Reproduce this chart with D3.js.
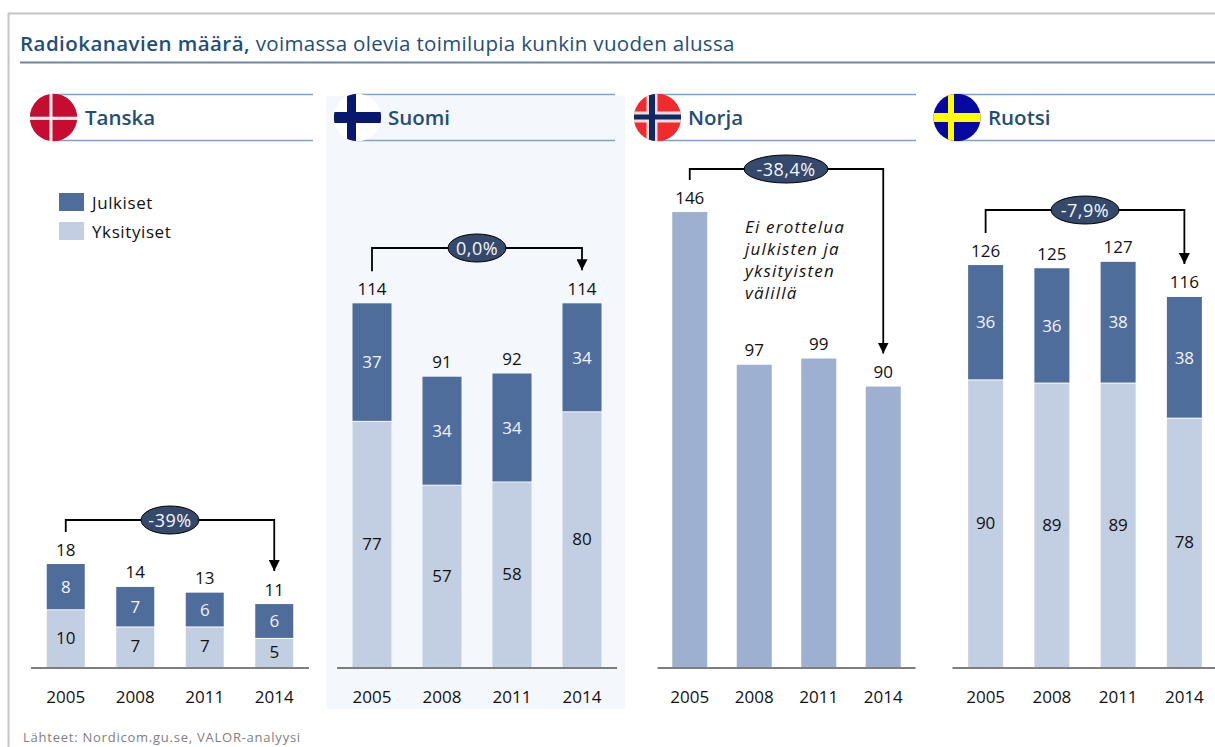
<!DOCTYPE html>
<html><head><meta charset="utf-8">
<script src="https://cdn.jsdelivr.net/npm/d3@7"></script>
<style>
html,body{margin:0;padding:0;background:#fff}
svg{display:block}
text{font-family:"Open Sans","Noto Sans",sans-serif}
</style></head><body><svg id="c" width="1215" height="747"></svg>
<script>
const years = ["2005","2008","2011","2014"];
const countries = ["Tanska","Suomi","Norja","Ruotsi"];
const tanskaPublic = [8,7,6,6];
const tanskaPrivate = [10,7,7,5];
const suomiPublic = [37,34,34,34];
const suomiPrivate = [77,57,58,80];
const norjaTotal = [146,97,99,90];
const ruotsiPublic = [36,36,38,38];
const ruotsiPrivate = [90,89,89,78];
const totalsTanska = [18,14,13,11];
const totalsSuomi = [114,91,92,114];
const totalsRuotsi = [126,125,127,116];
const changes = ["-39%","0,0%","-38,4%","-7,9%"];
const legendLabels = ["Julkiset","Yksityiset"];
const noteLines = ["Ei erottelua","julkisten ja","yksityisten","välillä"];
const titleBold = "Radiokanavien määrä,";
const titleRest = " voimassa olevia toimilupia kunkin vuoden alussa";
const sourceText = "Lähteet: Nordicom.gu.se, VALOR-analyysi";

const C = {dark:"#4e6d9b", light:"#c2cee1", mid:"#9db0cf", head:"#1f4e79", rule:"#7ba3d0", pill:"#34496b"};
const base = 667;
const svg = d3.select("#c");
const line = (x1,y1,x2,y2,c,w)=>svg.append("line").attr("x1",x1).attr("y1",y1).attr("x2",x2).attr("y2",y2).attr("stroke",c).attr("stroke-width",w);

// frame
line(8,13.5,1215,13.5,"#c6c6c6",2);
line(8.5,13,8.5,747,"#c6c6c6",2);
// title
const t = svg.append("text").attr("x",20).attr("y",51).attr("font-size",20.5).attr("fill",C.head);
t.append("tspan").attr("font-weight",600).attr("letter-spacing",0.45).text(titleBold);
t.append("tspan").attr("letter-spacing",0.33).text(titleRest);
line(20,62.5,1215,62.5,"#6a87a6",2);
// Suomi highlight
svg.append("rect").attr("x",326).attr("y",96).attr("width",299).attr("height",613).attr("fill","#f4f7fc");

const panels = [
 {name:countries[0],range:[31,309],bw:38,perUnit:5.72,cx:53.5,ruleEnd:313,textX:85,pub:tanskaPublic,pri:tanskaPrivate,tot:totalsTanska,hY:520,pillX:170,rx:29,chg:changes[0]},
 {name:countries[1],range:[337,617],bw:39,perUnit:3.19,cx:357.5,ruleEnd:615,textX:388,pub:suomiPublic,pri:suomiPrivate,tot:totalsSuomi,hY:248,pillX:477,rx:29,chg:changes[1]},
 {name:countries[2],range:[657.5,915.5],bw:35,perUnit:3.116,cx:657.5,ruleEnd:916,textX:688,pub:null,pri:norjaTotal,tot:norjaTotal,hY:169,pillX:786,rx:42,chg:changes[2]},
 {name:countries[3],range:[952.5,1217.5],bw:35,perUnit:3.19,cx:957,ruleEnd:1215,textX:988,pub:ruotsiPublic,pri:ruotsiPrivate,tot:totalsRuotsi,hY:210,pillX:1085,rx:34,chg:changes[3]}
];

const defs = svg.append("defs");
defs.append("marker").attr("id","ah").attr("viewBox","0 0 10 10").attr("refX",10).attr("refY",5)
  .attr("markerUnits","userSpaceOnUse").attr("markerWidth",11).attr("markerHeight",11).attr("orient","auto")
  .append("path").attr("d","M0,0L10,5L0,10Z").attr("fill","#000");

const flags = {
 Tanska:{bg:"#c60c30",crosses:[{c:"#fbeef0",vx:-4,vw:3,hy:-0.8,hh:3.2}]},
 Suomi:{bg:"#ffffff",crosses:[{c:"#08186e",vx:-10.5,vw:9,hy:-5.5,hh:11}]},
 Norja:{bg:"#ef2b2d",crosses:[{c:"#f6d9d9",vx:-11,vw:11,hy:-6,hh:11},{c:"#0b2a66",vx:-8.5,vw:6,hy:-3,hh:5}]},
 Ruotsi:{bg:"#0606a0",crosses:[{c:"#ffff00",vx:-9,vw:6,hy:-4.5,hh:9}]}
};

panels.forEach((p,i)=>{
  const cy=117.5, r=23.7;
  line(p.cx-3,94.5,p.ruleEnd,94.5,C.rule,1.5);
  line(p.cx-3,140.5,p.ruleEnd,140.5,C.rule,1.5);
  defs.append("clipPath").attr("id","f"+i).append("circle").attr("cx",p.cx).attr("cy",cy).attr("r",r);
  const g = svg.append("g").attr("clip-path",`url(#f${i})`);
  const f = flags[p.name];
  g.append("rect").attr("x",p.cx-r).attr("y",cy-r).attr("width",2*r).attr("height",2*r).attr("fill",f.bg);
  f.crosses.forEach(c=>{
    g.append("rect").attr("x",p.cx+c.vx).attr("y",cy-r).attr("width",c.vw).attr("height",2*r).attr("fill",c.c);
    g.append("rect").attr("x",p.cx-r).attr("y",cy+c.hy).attr("width",2*r).attr("height",c.hh).attr("fill",c.c);
  });
  svg.append("text").attr("x",p.textX).attr("y",125).attr("font-size",20.5).attr("font-weight",600).attr("fill",C.head).text(p.name);

  const x = d3.scalePoint().domain(years).range(p.range).padding(0.5);
  const y = d3.scaleLinear().domain([0,100]).range([base,base-100*p.perUnit]);
  const bar = (yr,lo,hi,fill)=>svg.append("rect").attr("x",x(yr)-p.bw/2).attr("width",p.bw)
     .attr("y",y(hi)).attr("height",y(lo)-y(hi)).attr("fill",fill);
  const num = (xx,yy,s,fill)=>svg.append("text").attr("x",xx).attr("y",yy).attr("text-anchor","middle")
     .attr("dominant-baseline","central").attr("font-size",17).attr("fill",fill).text(s);

  years.forEach((yr,j)=>{
    const pri=p.pri[j];
    if(p.pub){
      bar(yr,0,pri-0.5/p.perUnit,C.light);
      bar(yr,pri+0.5/p.perUnit,p.tot[j],C.dark);
      num(x(yr),(y(0)+y(pri))/2-1,pri,"#111");
      num(x(yr),(y(pri)+y(p.tot[j]))/2-0.5,p.pub[j],"#f2f4f8");
    } else {
      bar(yr,0,pri,C.mid);
    }
    num(x(yr),y(p.tot[j])-15,p.tot[j],"#111");
  });

  const ax = svg.append("g").attr("transform",`translate(-0.5,${base+0.5})`).call(d3.axisBottom(x).tickSize(0).tickPadding(23));
  ax.select(".domain").attr("stroke","#555").attr("stroke-width",1.5);
  ax.selectAll("text").attr("font-size",17).attr("fill","#111").attr("font-family",'"Open Sans"');

  const x0=x(years[0]), x1=x(years[3]);
  const yStart=y(p.tot[0])-32, yEnd=y(p.tot[3])-33;
  svg.append("path").attr("d",`M${x0},${yStart}V${p.hY}H${x1}V${yEnd}`).attr("fill","none").attr("stroke","#000").attr("stroke-width",1.8).attr("marker-end","url(#ah)");
  svg.append("ellipse").attr("cx",p.pillX).attr("cy",p.hY).attr("rx",p.rx).attr("ry",14).attr("fill",C.pill).attr("stroke","#000").attr("stroke-width",1);
  svg.append("text").attr("x",p.pillX).attr("y",p.hY).attr("text-anchor","middle").attr("dominant-baseline","central").attr("font-size",18).attr("letter-spacing",0.5).attr("fill","#f4f6fa").text(p.chg);
});

legendLabels.forEach((l,i)=>{
  const yy=193+i*29;
  svg.append("rect").attr("x",59).attr("y",yy).attr("width",25).attr("height",18).attr("fill",i?C.light:C.dark);
  svg.append("text").attr("x",92).attr("y",yy+9.5).attr("dominant-baseline","central").attr("font-size",17).attr("letter-spacing",0.6).attr("fill","#111").text(l);
});
noteLines.forEach((l,i)=>{
  svg.append("text").attr("x",745).attr("y",226+i*22).attr("dominant-baseline","central").attr("font-size",17).attr("font-style","italic").attr("letter-spacing",1.2).attr("fill","#111").text(l);
});
svg.append("text").attr("x",23).attr("y",737).attr("dominant-baseline","central").attr("font-size",13).attr("letter-spacing",0.76).attr("fill","#808080").text(sourceText);
</script></body></html>
